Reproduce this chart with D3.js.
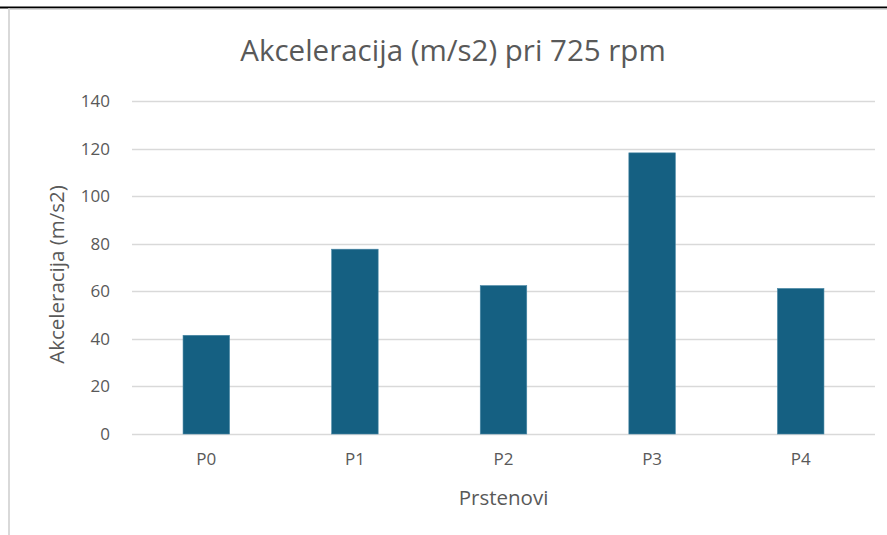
<!DOCTYPE html>
<html><head><meta charset="utf-8">
<script src="https://cdn.jsdelivr.net/npm/d3@7"></script>
<style>html,body{margin:0;padding:0;background:#fff;overflow:hidden}</style>
</head><body>
<svg id="chart" width="887" height="535"></svg>
<script>
const categories = ["P0", "P1", "P2", "P3", "P4"];
const values = [41.5, 77.7, 62.4, 118.2, 61.2];
const yTicks = [0, 20, 40, 60, 80, 100, 120, 140];
const title = "Akceleracija (m/s2) pri 725 rpm";
const xTitle = "Prstenovi";
const yTitle = "Akceleracija (m/s2)";

const W = 887, H = 535;
const m = {left: 132, right: 12, top: 101, bottom: 101};
const svg = d3.select("#chart");
const font = "'Open Sans', 'Liberation Sans', Arial, sans-serif";
const textCol = "#595959";

// frame
svg.append("rect").attr("x", 0).attr("y", 6.5).attr("width", W).attr("height", 2).attr("fill", "#000");
svg.append("rect").attr("x", 8).attr("y", 8.5).attr("width", W - 8).attr("height", 1.5).attr("fill", "#d9d9d9");
svg.append("rect").attr("x", 8).attr("y", 8.5).attr("width", 2).attr("height", H).attr("fill", "#d9d9d9");

const x = d3.scaleBand().domain(categories).range([m.left, W - m.right]).padding(0);
const y = d3.scaleLinear().domain([0, 140]).range([H - m.bottom, m.top]);

// gridlines
svg.append("g").selectAll("line").data(yTicks).join("line")
  .attr("x1", m.left).attr("x2", W - m.right)
  .attr("y1", d => Math.round(y(d)) + 0.5).attr("y2", d => Math.round(y(d)) + 0.5)
  .attr("stroke", "#d9d9d9").attr("stroke-width", 1.3);

// y tick labels
const yAxis = d3.axisLeft(y).tickValues(yTicks).tickSize(0).tickPadding(0);
const ya = svg.append("g").attr("transform", `translate(110,0)`).call(yAxis);
ya.select(".domain").remove();
ya.selectAll("text").attr("font-family", font).attr("font-size", 17).attr("fill", textCol);

// bars
const bw = x.bandwidth() * 0.313;
svg.append("g").selectAll("rect").data(values).join("rect")
  .attr("x", (d, i) => x(categories[i]) + x.bandwidth() / 2 - bw / 2)
  .attr("width", bw)
  .attr("y", d => y(d))
  .attr("height", d => y(0) - y(d))
  .attr("fill", "#156082").attr("stroke", "#4a88a6").attr("stroke-width", 0.6);

// x axis labels
const xAxis = d3.axisBottom(x).tickSize(0).tickPadding(0);
const xa = svg.append("g").attr("transform", `translate(0,${y(0) + 19})`).call(xAxis);
xa.select(".domain").remove();
xa.selectAll("text").attr("font-family", font).attr("font-size", 17).attr("fill", textCol).attr("dy", "0.71em");

// titles
svg.append("text").attr("x", 453).attr("y", 61).attr("text-anchor", "middle")
  .attr("font-family", font).attr("font-size", 29.5).attr("fill", textCol).text(title);
svg.append("text").attr("x", (m.left + W - m.right) / 2).attr("y", 505).attr("text-anchor", "middle")
  .attr("font-family", font).attr("font-size", 20.5).attr("fill", textCol).text(xTitle);
svg.append("text").attr("transform", `translate(64,${(y(0) + y(140)) / 2 + 7}) rotate(-90)`).attr("text-anchor", "middle")
  .attr("font-family", font).attr("font-size", 20.5).attr("fill", textCol).text(yTitle);
</script>
</body></html>
